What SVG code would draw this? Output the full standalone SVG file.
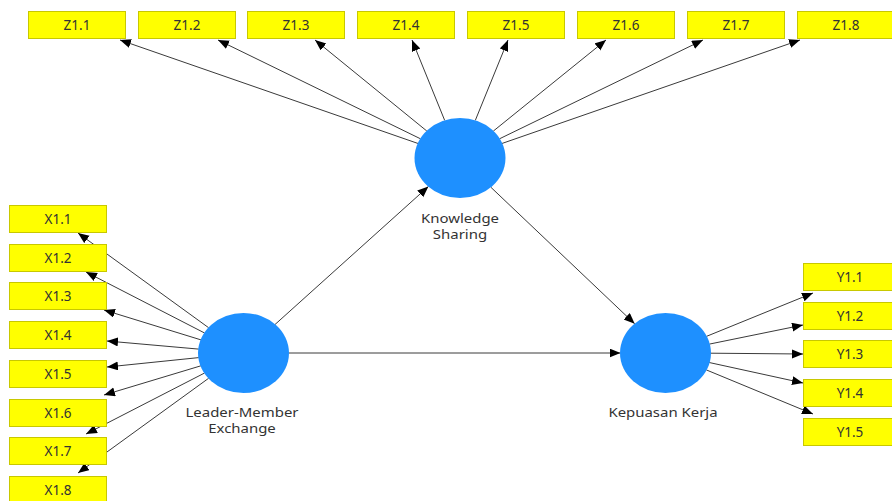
<svg xmlns="http://www.w3.org/2000/svg" width="892" height="501" viewBox="0 0 892 501">
<style>
.ind rect{fill:#ffff00;stroke:#c8c800;stroke-width:1}
.ind text{font-family:"Noto Sans","Open Sans","DejaVu Sans",sans-serif;font-size:13.5px;fill:#333;text-anchor:middle}
.lv ellipse{fill:#1e90ff}
.lv text{font-family:"Noto Sans","Open Sans","DejaVu Sans",sans-serif;font-size:13px;fill:#333;text-anchor:middle}
#connectors line{stroke:#3a3a3a;stroke-width:1;marker-end:url(#ah)}
</style>
<defs>
<marker id="ah" markerUnits="userSpaceOnUse" markerWidth="12" markerHeight="10" refX="11" refY="4.5" orient="auto">
<path d="M0,0 L11,4.5 L0,9 z" fill="#000"/>
</marker>
</defs>
<rect width="892" height="501" fill="#fff"/>
<g id="connectors">
<line x1="418.1" y1="143.5" x2="120" y2="40"/>
<line x1="420.5" y1="138.8" x2="218" y2="40"/>
<line x1="426.8" y1="131" x2="315" y2="40"/>
<line x1="444.7" y1="120.4" x2="412" y2="40"/>
<line x1="475.3" y1="120.4" x2="508" y2="40"/>
<line x1="493.3" y1="131.1" x2="606" y2="40"/>
<line x1="499.5" y1="138.8" x2="703" y2="40"/>
<line x1="501.9" y1="143.5" x2="800" y2="40"/>
<line x1="208.6" y1="327.7" x2="78" y2="233"/>
<line x1="204.6" y1="333" x2="86" y2="272"/>
<line x1="201" y1="339.9" x2="104" y2="310"/>
<line x1="198.7" y1="349.1" x2="107" y2="341"/>
<line x1="198.8" y1="357.6" x2="107" y2="367"/>
<line x1="200.9" y1="365.8" x2="104" y2="395"/>
<line x1="204.6" y1="373" x2="86" y2="434"/>
<line x1="208.6" y1="378.3" x2="78" y2="473"/>
<line x1="706.4" y1="336.4" x2="813" y2="293"/>
<line x1="709.4" y1="344.1" x2="803" y2="325"/>
<line x1="710.5" y1="353.2" x2="803" y2="354"/>
<line x1="709.2" y1="362.5" x2="803" y2="383"/>
<line x1="706.3" y1="369.9" x2="813" y2="414"/>
<line x1="275" y1="324.5" x2="428.4" y2="186.5"/>
<line x1="490.8" y1="187.2" x2="634.7" y2="323.8"/>
<line x1="288.5" y1="353" x2="620.5" y2="353"/>
</g>
<g id="Z1_1" class="ind"><rect x="28.5" y="11.5" width="97" height="27"/><text x="77" y="30">Z1.1</text></g>
<g id="Z1_2" class="ind"><rect x="138.5" y="11.5" width="97" height="27"/><text x="187" y="30">Z1.2</text></g>
<g id="Z1_3" class="ind"><rect x="247.5" y="11.5" width="97" height="27"/><text x="296" y="30">Z1.3</text></g>
<g id="Z1_4" class="ind"><rect x="357.5" y="11.5" width="97" height="27"/><text x="406" y="30">Z1.4</text></g>
<g id="Z1_5" class="ind"><rect x="467.5" y="11.5" width="97" height="27"/><text x="516" y="30">Z1.5</text></g>
<g id="Z1_6" class="ind"><rect x="577.5" y="11.5" width="97" height="27"/><text x="626" y="30">Z1.6</text></g>
<g id="Z1_7" class="ind"><rect x="687.5" y="11.5" width="97" height="27"/><text x="736" y="30">Z1.7</text></g>
<g id="Z1_8" class="ind"><rect x="797.5" y="11.5" width="97" height="27"/><text x="846" y="30">Z1.8</text></g>
<g id="X1_1" class="ind"><rect x="9.5" y="205.5" width="97" height="27"/><text x="58" y="224">X1.1</text></g>
<g id="X1_2" class="ind"><rect x="9.5" y="244.5" width="97" height="27"/><text x="58" y="263">X1.2</text></g>
<g id="X1_3" class="ind"><rect x="9.5" y="282.5" width="97" height="27"/><text x="58" y="301">X1.3</text></g>
<g id="X1_4" class="ind"><rect x="9.5" y="321.5" width="97" height="27"/><text x="58" y="340">X1.4</text></g>
<g id="X1_5" class="ind"><rect x="9.5" y="360.5" width="97" height="27"/><text x="58" y="379">X1.5</text></g>
<g id="X1_6" class="ind"><rect x="9.5" y="399.5" width="97" height="27"/><text x="58" y="418">X1.6</text></g>
<g id="X1_7" class="ind"><rect x="9.5" y="437.5" width="97" height="27"/><text x="58" y="456">X1.7</text></g>
<g id="X1_8" class="ind"><rect x="9.5" y="476.5" width="97" height="27"/><text x="58" y="495">X1.8</text></g>
<g id="Y1_1" class="ind"><rect x="803.5" y="263.5" width="97" height="27"/><text x="850" y="282">Y1.1</text></g>
<g id="Y1_2" class="ind"><rect x="803.5" y="302.5" width="97" height="27"/><text x="850" y="321">Y1.2</text></g>
<g id="Y1_3" class="ind"><rect x="803.5" y="340.5" width="97" height="27"/><text x="850" y="359">Y1.3</text></g>
<g id="Y1_4" class="ind"><rect x="803.5" y="379.5" width="97" height="27"/><text x="850" y="398">Y1.4</text></g>
<g id="Y1_5" class="ind"><rect x="803.5" y="418.5" width="97" height="27"/><text x="850" y="437">Y1.5</text></g>
<g id="KS" class="lv"><ellipse cx="460" cy="158" rx="45.5" ry="40"/>
<text transform="translate(460,223) scale(1.15,1)">Knowledge</text>
<text transform="translate(460,239) scale(1.15,1)">Sharing</text></g>
<g id="LMX" class="lv"><ellipse cx="243.5" cy="353" rx="45.5" ry="40"/>
<text transform="translate(242,417) scale(1.15,1)">Leader-Member</text>
<text transform="translate(242,433) scale(1.15,1)">Exchange</text></g>
<g id="KK" class="lv"><ellipse cx="665.5" cy="353" rx="45.5" ry="40"/>
<text transform="translate(663,417) scale(1.15,1)">Kepuasan Kerja</text></g>
</svg>
